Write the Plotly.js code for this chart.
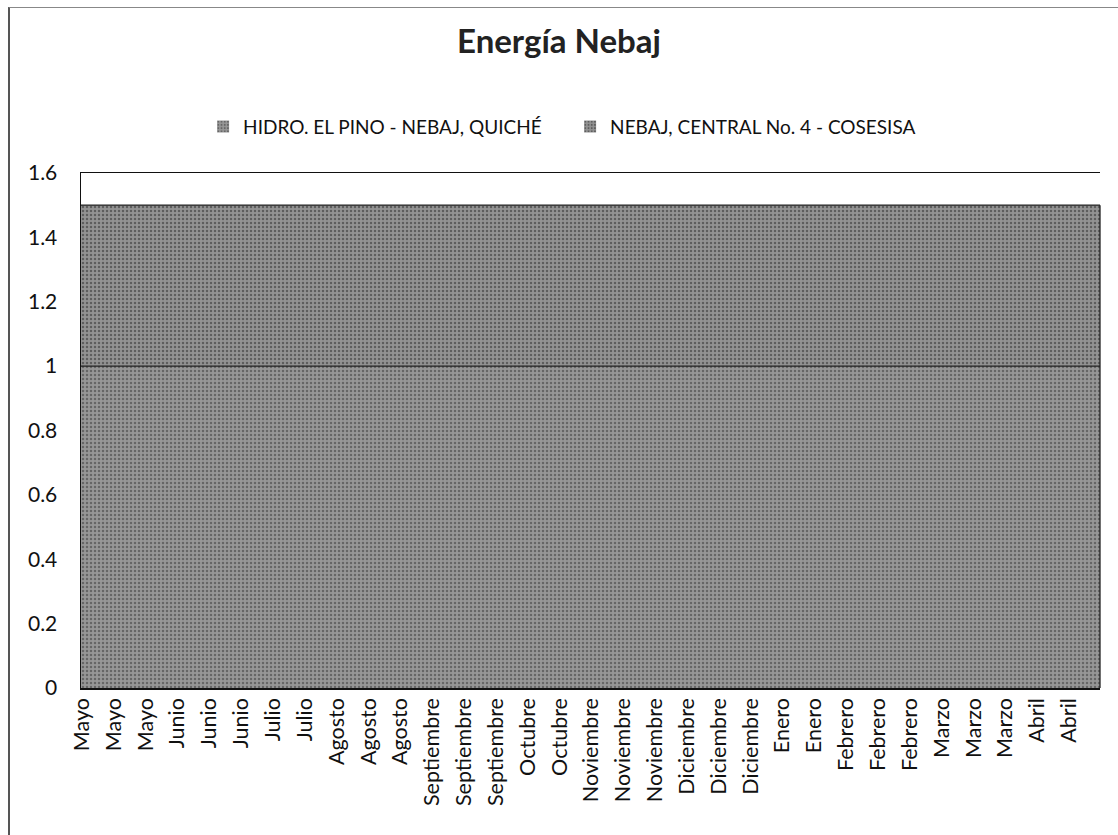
<!DOCTYPE html>
<html>
<head>
<meta charset="utf-8">
<script src="https://cdn.plot.ly/plotly-3.0.1.min.js"></script>
<style>
html,body{margin:0;padding:0;background:#fff;}
#wrap{position:relative;width:1118px;height:835px;overflow:hidden;}
#chart{position:absolute;left:0;top:0;width:1118px;height:835px;}
#frame{position:absolute;left:8px;top:7px;width:1120px;height:840px;border-left:2px solid #555;border-top:1px solid #888;pointer-events:none;}
</style>
</head>
<body>
<div id="wrap"><div id="chart"></div><div id="frame"></div></div>
<script>
const months = ["Mayo","Mayo","Mayo","Junio","Junio","Junio","Julio","Julio","Agosto","Agosto","Agosto",
  "Septiembre","Septiembre","Septiembre","Octubre","Octubre","Noviembre","Noviembre","Noviembre",
  "Diciembre","Diciembre","Diciembre","Enero","Enero","Febrero","Febrero","Febrero",
  "Marzo","Marzo","Marzo","Abril","Abril"];
const hidroElPino = [1,1,1,1,1,1,1,1,1,1,1,1,1,1,1,1,1,1,1,1,1,1,1,1,1,1,1,1,1,1,1,1];
const centralNo4 = [0.5,0.5,0.5,0.5,0.5,0.5,0.5,0.5,0.5,0.5,0.5,0.5,0.5,0.5,0.5,0.5,0.5,0.5,0.5,0.5,0.5,0.5,0.5,0.5,0.5,0.5,0.5,0.5,0.5,0.5,0.5,0.5];
const seriesNames = ["HIDRO. EL PINO - NEBAJ, QUICHÉ", "NEBAJ, CENTRAL No. 4 - COSESISA"];
const yTicks = [0,0.2,0.4,0.6,0.8,1,1.2,1.4,1.6];

const idx = months.map((m,i)=>i);
const cum1 = hidroElPino.slice();
const cum2 = hidroElPino.map((v,i)=>v+centralNo4[i]);

const traces = [
  {type:'bar', x:idx, y:hidroElPino, name:seriesNames[0],
   marker:{color:'#8e8e8e', line:{width:0},
     pattern:{shape:'.', fgcolor:'#666666', bgcolor:'#979797', size:4, solidity:0.3, fillmode:'replace'}},
   hoverinfo:'y'},
  {type:'bar', x:idx, y:centralNo4, name:seriesNames[1],
   marker:{color:'#888888', line:{width:0},
     pattern:{shape:'.', fgcolor:'#5e5e5e', bgcolor:'#939393', size:4, solidity:0.3, fillmode:'replace'}},
   hoverinfo:'y'},
  {type:'scatter', mode:'lines', x:idx, y:cum1, xaxis:'x2', showlegend:false,
   line:{color:'#222', width:1.3}, hoverinfo:'skip'},
  {type:'scatter', mode:'lines', x:idx, y:cum2, xaxis:'x2', showlegend:false,
   line:{color:'#222', width:1.3}, hoverinfo:'skip'}
];

const layout = {
  width:1118, height:835,
  margin:{l:81, r:18, t:173, b:147},
  paper_bgcolor:'#fff', plot_bgcolor:'#fff',
  barmode:'stack', bargap:0,
  font:{family:'Lato, "Open Sans", sans-serif', color:'#111'},
  title:{text:'<b>Energía Nebaj</b>', x:0.5, xanchor:'center', y:0.95, yanchor:'middle',
    font:{size:33, family:'Lato, "Open Sans", sans-serif', color:'#222'}},
  legend:{orientation:'h', x:0.48, xanchor:'center', y:1.09, yanchor:'middle',
    font:{size:19, color:'#111'}, itemwidth:30, traceorder:'normal',
    entrywidth:322, entrywidthmode:'pixels'},
  xaxis:{range:[-0.5,31.5], tickmode:'array', tickvals:idx, ticktext:months,
    tickangle:-90, tickfont:{size:21.5}, ticks:'', showgrid:false, zeroline:false,
    showline:true, mirror:true, linecolor:'#111', linewidth:1.5, ticklabelshift:-15, fixedrange:true},
  xaxis2:{range:[0,31], overlaying:'x', visible:false, fixedrange:true},
  yaxis:{range:[0,1.6], tickmode:'array', tickvals:yTicks, ticktext:yTicks.map(String),
    tickfont:{size:21}, showgrid:false, zeroline:false, ticklabelstandoff:18,
    showline:true, linecolor:'#111', linewidth:1.5, ticks:'', ticklen:0, fixedrange:true},
  shapes:[{type:'line', xref:'paper', yref:'y', x0:1, x1:1, y0:0, y1:cum2[cum2.length-1],
    line:{color:'#222', width:1.3}}],
  showlegend:true
};

Plotly.newPlot('chart', traces, layout, {displayModeBar:false, staticPlot:true});
</script>
</body>
</html>
